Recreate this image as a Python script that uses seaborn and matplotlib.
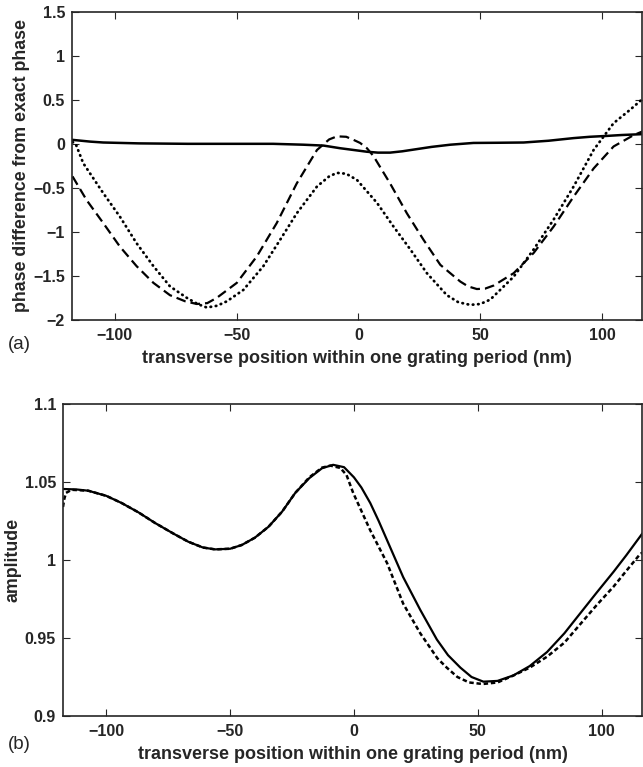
import matplotlib
matplotlib.use("Agg")
import matplotlib.pyplot as plt
import seaborn as sns

# (a) phase difference curves
sol_a_x = [-117.3, -110, -104.7, -90, -70, -50, -35, -22.6, -14.3, -7.5, -0.6, 3.5, 8, 13.0, 18, 24.0, 30, 37.7, 47.2, 57, 67.8, 78, 88.3, 95, 102.0, 108, 116.5]
sol_a_y = [0.045, 0.025, 0.015, 0.005, 0.0, 0.0, 0.0, -0.01, -0.02, -0.05, -0.075, -0.09, -0.1, -0.1, -0.085, -0.06, -0.035, -0.01, 0.01, 0.012, 0.015, 0.035, 0.065, 0.08, 0.09, 0.1, 0.11]

dash_a_x = [-117.3, -111.5, -104.7, -97.8, -91.0, -84.1, -77.3, -71, -66.3, -62, -58.1, -49.9, -41.7, -33.5, -25.3, -17.0, -12, -8.8, -5, -2.0, 0.7, 3.5, 6.2, 13.0, 19.9, 26.7, 33.6, 41.8, 45, 48.6, 52, 55.5, 63.7, 71.9, 80.1, 88.3, 96.5, 104.7, 113.0, 116.5]
dash_a_y = [-0.37, -0.64, -0.90, -1.17, -1.39, -1.58, -1.72, -1.79, -1.82, -1.81, -1.75, -1.58, -1.28, -0.90, -0.45, -0.07, 0.05, 0.085, 0.08, 0.045, 0.01, -0.05, -0.14, -0.45, -0.79, -1.09, -1.375, -1.565, -1.62, -1.65, -1.645, -1.61, -1.47, -1.24, -0.94, -0.60, -0.28, -0.03, 0.10, 0.14]

dot_a_x = [-117.3, -116, -112.9, -104.7, -97.8, -91.0, -84.1, -77.3, -70.4, -66, -62.2, -58, -54.0, -47.2, -39.0, -32.1, -25.3, -17.0, -12, -8.8, -5, -0.6, 7.6, 14.4, 21.3, 28.1, 36.3, 41, 45.9, 50, 54.1, 63.7, 71.9, 80.1, 88.3, 96.5, 104.7, 111.6, 117.0]
dot_a_y = [0.02, 0.0, -0.22, -0.56, -0.83, -1.13, -1.39, -1.62, -1.75, -1.82, -1.86, -1.84, -1.79, -1.66, -1.39, -1.09, -0.79, -0.485, -0.37, -0.33, -0.34, -0.41, -0.67, -0.94, -1.20, -1.47, -1.72, -1.80, -1.83, -1.82, -1.77, -1.51, -1.20, -0.86, -0.485, -0.07, 0.235, 0.39, 0.52]

# (b) amplitude curves
sol_b_x = [-117.3, -112, -107.3, -100, -93.8, -87, -80.3, -73, -66.9, -61, -56.1, -50, -45.3, -40, -34.5, -29, -23.7, -18, -12.9, -8.4, -4, 0.0, 3, 6.6, 10, 13.3, 19.9, 26.8, 33.5, 38, 43, 47.5, 52.3, 58, 64.4, 71, 78.0, 85, 91.5, 98, 104.9, 110, 116.5]
sol_b_y = [1.0455, 1.0452, 1.0444, 1.0411, 1.0365, 1.0305, 1.0237, 1.017, 1.0117, 1.008, 1.0068, 1.0072, 1.0096, 1.0143, 1.0213, 1.031, 1.043, 1.0525, 1.0588, 1.061, 1.0595, 1.053, 1.0465, 1.0365, 1.025, 1.013, 0.989, 0.968, 0.949, 0.939, 0.931, 0.925, 0.922, 0.9225, 0.926, 0.932, 0.941, 0.953, 0.966, 0.979, 0.9925, 1.003, 1.017]

dash_b_x = [-117.5, -117.0, -116.3, -114, -107.3, -100, -93.8, -87, -80.3, -73, -66.9, -61, -56.1, -50, -45.3, -40, -34.5, -29, -23.7, -18, -12.9, -9.5, -5.5, -3, -0.3, 3, 6.6, 10, 13.4, 19.9, 26.8, 33.7, 37.5, 41.8, 46.5, 52.0, 58, 64.5, 71, 78.0, 85, 91.5, 98, 104.9, 110, 115.7, 117.0]
dash_b_y = [1.034, 1.039, 1.043, 1.045, 1.0444, 1.0411, 1.0365, 1.0305, 1.0237, 1.017, 1.0117, 1.008, 1.0068, 1.0072, 1.0096, 1.0143, 1.0213, 1.031, 1.043, 1.053, 1.0592, 1.0605, 1.059, 1.0545, 1.043, 1.0315, 1.019, 1.0085, 0.998, 0.972, 0.953, 0.937, 0.931, 0.925, 0.9215, 0.9205, 0.9215, 0.926, 0.931, 0.938, 0.947, 0.959, 0.971, 0.983, 0.993, 1.004, 1.005]

x_ticks = [-100, -50, 0, 50, 100]
x_tick_labels = ["\u2212100", "\u221250", "0", "50", "100"]
ya_ticks = [-2, -1.5, -1, -0.5, 0, 0.5, 1, 1.5]
ya_tick_labels = ["\u22122", "\u22121.5", "\u22121", "\u22120.5", "0", "0.5", "1", "1.5"]
yb_ticks = [0.9, 0.95, 1.0, 1.05, 1.1]
yb_tick_labels = ["0.9", "0.95", "1", "1.05", "1.1"]

sns.set_style("ticks")
plt.rcParams["font.family"] = ["Liberation Sans", "DejaVu Sans"]
plt.rcParams["lines.scale_dashes"] = False

fig = plt.figure(figsize=(6.43, 7.67), dpi=100)
ax1 = fig.add_axes([0.112, 0.583, 0.887, 0.4016])
ax2 = fig.add_axes([0.098, 0.0665, 0.901, 0.4068])

sns.lineplot(x=dot_a_x, y=dot_a_y, ax=ax1, color="k", lw=2.0,
             linestyle=(0, (0.4, 3.4)), dash_capstyle="round")
sns.lineplot(x=dash_a_x, y=dash_a_y, ax=ax1, color="k", lw=1.6, linestyle=(0, (7, 3.6)))
sns.lineplot(x=sol_a_x, y=sol_a_y, ax=ax1, color="k", lw=1.8)

sns.lineplot(x=dash_b_x, y=dash_b_y, ax=ax2, color="k", lw=1.8, linestyle=(0, (3.2, 2.0)))
sns.lineplot(x=sol_b_x, y=sol_b_y, ax=ax2, color="k", lw=1.6)

xlabel = "transverse position within one grating period (nm)"
for ax, yt, ytl, ylim, ylab in [
    (ax1, ya_ticks, ya_tick_labels, (-2, 1.5), "phase difference from exact phase"),
    (ax2, yb_ticks, yb_tick_labels, (0.9, 1.1), "amplitude"),
]:
    ax.set_xlim(-117.5, 116.5)
    ax.set_ylim(*ylim)
    ax.set_xticks(x_ticks)
    ax.set_xticklabels(x_tick_labels, fontsize=11.5, fontweight="bold")
    ax.set_yticks(yt)
    ax.set_yticklabels(ytl, fontsize=11.5, fontweight="bold")
    ax.tick_params(direction="in", length=5, width=0.8, top=True, right=True)
    ax.tick_params(axis="x", pad=6)
    ax.tick_params(axis="y", pad=5)
    ax.set_xlabel(xlabel, fontsize=13, fontweight="bold", labelpad=5)
    ax.set_ylabel(ylab, fontsize=12.8, fontweight="bold", labelpad=2)
    for s in ax.spines.values():
        s.set_linewidth(1.2)
        s.set_visible(True)

fig.text(0.012, 0.551, "(a)", fontsize=13.5, va="center", ha="left")
fig.text(0.012, 0.029, "(b)", fontsize=13.5, va="center", ha="left")

fig.savefig("out.png", dpi=100)
